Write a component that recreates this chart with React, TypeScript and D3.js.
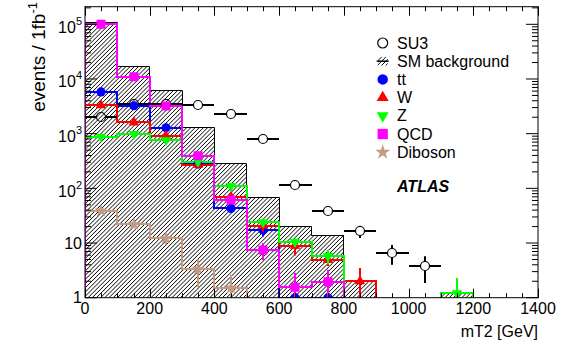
import { useEffect, useRef } from 'react';
import * as d3 from 'd3';

// mT2 bins, 100 GeV wide
const binLow = [0, 100, 200, 300, 400, 500, 600, 700, 800, 900, 1000, 1100, 1200, 1300];
const binWidth = 100;

const smBackground = [107000, 16700, 6100, 1300, 280, 68, 20.4, 14, 2.0, 0, 0, 1.2, 0, 0];
const su3 = [2000, 3450, 3450, 3340, 2250, 790, 115, 38, 16.5, 6.6, 3.8, 0, 0, 0];
const su3Err = [45, 59, 59, 58, 47, 28, 10.7, 6.2, 4.1, 2.6, 1.95, 0, 0, 0];
const ttbar = [5800, 3240, 1280, 278, 43, 17.3, 1.0, 1.0, 0, 0, 0, 0, 0, 0];
const ttbarErr = [76, 57, 36, 17, 6.5, 4.2, 1.0, 1.0, 0, 0, 0, 0, 0, 0];
const wjets = [3300, 1610, 900, 270, 70, 20.7, 8.9, 4.9, 2.0, 0, 0, 0, 0, 0];
const wjetsErr = [57, 40, 30, 16, 8.4, 4.5, 3.0, 1.1, 1.5, 0, 0, 0, 0, 0];
const zjets = [880, 985, 760, 306, 110, 24, 10.5, 5.8, 0, 0, 0, 1.2, 0, 0];
const zjetsErr = [30, 31, 28, 17, 10, 4.0, 1.5, 1.7, 0, 0, 0, 1.1, 0, 0];
const qcd = [100000, 11000, 3200, 394, 61, 7.45, 1.55, 1.96, 0, 0, 0, 0, 0, 0];
const qcdErr = [316, 105, 57, 20, 7.8, 2.6, 1.3, 1.3, 0, 0, 0, 0, 0, 0];
const diboson = [39, 22, 12.2, 3.35, 1.52, 0, 0, 0, 0, 0, 0, 0, 0, 0];
const dibosonErr = [3, 3, 2.7, 1.8, 1.1, 0, 0, 0, 0, 0, 0, 0, 0, 0];

const xTicks = [0, 200, 400, 600, 800, 1000, 1200, 1400];
const yTicks = [1, 10, 100, 1000, 10000, 100000];
const yTickBase = ['1', '10', '10', '10', '10', '10'];
const yTickSup = ['', '', '2', '3', '4', '5'];

const legendLabels = ['SU3', 'SM background', 'tt', 'W', 'Z', 'QCD', 'Diboson'];

type Series = { values: number[]; errs: number[]; color: string; symbol: d3.SymbolType; size: number; rotate: number };

const series: Series[] = [
  { values: diboson, errs: dibosonErr, color: '#c49a82', symbol: d3.symbolStar, size: 55, rotate: 0 },
  { values: ttbar, errs: ttbarErr, color: '#0000ff', symbol: d3.symbolCircle, size: 66, rotate: 0 },
  { values: wjets, errs: wjetsErr, color: '#ff0000', symbol: d3.symbolTriangle, size: 48, rotate: 0 },
  { values: zjets, errs: zjetsErr, color: '#00ff00', symbol: d3.symbolTriangle, size: 48, rotate: 180 },
  { values: qcd, errs: qcdErr, color: '#ff00ff', symbol: d3.symbolSquare, size: 81, rotate: 0 },
];

const width = 567;
const height = 351;
const font = '"Liberation Sans", Arial, Helvetica, sans-serif';

export default function App() {
  const svgRef = useRef<SVGSVGElement>(null);

  useEffect(() => {
    if (!svgRef.current) return;
    const svg = d3.select(svgRef.current);
    svg.selectAll('*').remove();

    const left = 85, right = 538, top = 6.7, bottom = 297.7;
    const x = d3.scaleLinear().domain([0, 1400]).range([left, right]);
    const y = d3.scaleLog().domain([1, 2.1e5]).range([bottom, top]);
    const yv = (v: number) => (v > 0 ? y(Math.max(v, 0.5)) : bottom + 2);

    const defs = svg.append('defs');
    defs.append('clipPath').attr('id', 'plotclip')
      .append('rect')
      .attr('x', left).attr('y', top)
      .attr('width', right - left).attr('height', bottom - top);

    // clip region = SM background bins
    const smClip = defs.append('clipPath').attr('id', 'smclip');
    smBackground.forEach((v, i) => {
      if (v <= 0) return;
      smClip.append('rect')
        .attr('x', x(binLow[i]))
        .attr('y', y(v))
        .attr('width', x(binLow[i] + binWidth) - x(binLow[i]))
        .attr('height', bottom - y(v));
    });
    // legend hatch box
    const lx = 382.7, ly = 43, step = 18.2;
    defs.append('clipPath').attr('id', 'legclip')
      .append('rect').attr('x', lx - 5).attr('y', ly + step - 4.5).attr('width', 10).attr('height', 9);

    const hatch = (parent: d3.Selection<SVGGElement, unknown, null, undefined>, x0: number, x1: number, y0: number, y1: number) => {
      const h = y1 - y0;
      d3.range(x0 - h, x1, 4.2).forEach(k => {
        parent.append('line')
          .attr('x1', k).attr('y1', y1)
          .attr('x2', k + h).attr('y2', y0)
          .attr('stroke', '#000').attr('stroke-width', 1);
      });
    };

    svg.append('rect').attr('width', width).attr('height', height).attr('fill', '#fff');

    const g = svg.append('g').attr('clip-path', 'url(#plotclip)');

    // SM background, hatched
    const hg = g.append('g').attr('clip-path', 'url(#smclip)');
    hatch(hg, left, right, top, bottom);

    // step outline, snapped to whole pixels so the 2px lines stay crisp
    const stepPath = (vals: number[], odd: boolean) => {
      const s = (n: number) => (odd ? Math.round(n - 0.5) + 0.5 : Math.round(n));
      const p = d3.path();
      p.moveTo(s(x(binLow[0])), bottom + 2);
      vals.forEach((v, i) => {
        p.lineTo(s(x(binLow[i])), s(yv(v)));
        p.lineTo(s(x(binLow[i] + binWidth)), s(yv(v)));
      });
      p.lineTo(s(x(binLow[binLow.length - 1] + binWidth)), bottom + 2);
      return p.toString();
    };
    g.append('path')
      .attr('d', stepPath(smBackground, true))
      .attr('fill', 'none')
      .attr('stroke', '#000')
      .attr('stroke-width', 1);

    // background histograms
    series.forEach(s => {
      g.append('path')
        .attr('d', stepPath(s.values, false))
        .attr('fill', 'none')
        .attr('stroke', s.color)
        .attr('stroke-width', 2);
    });

    // SU3 points with error bars
    const r = 4.5;
    su3.forEach((v, i) => {
      if (v <= 0) return;
      const cx = Math.round(x(binLow[i] + binWidth / 2));
      const cy = Math.round(y(v));
      const segs = [
        [Math.round(x(binLow[i])), cy, cx - r, cy],
        [cx + r, cy, Math.round(x(binLow[i] + binWidth)), cy],
        [cx, y(v + su3Err[i]), cx, cy - r],
        [cx, cy + r, cx, yv(v - su3Err[i])],
      ];
      segs.forEach(([x1, y1, x2, y2]) => {
        if (Math.abs(x2 - x1) + Math.abs(y2 - y1) < 0.5) return;
        if ((y2 - y1) < 0 || (x2 - x1) < 0) return;
        g.append('line')
          .attr('x1', x1).attr('y1', y1).attr('x2', x2).attr('y2', y2)
          .attr('stroke', '#000').attr('stroke-width', 2);
      });
      g.append('circle')
        .attr('cx', cx).attr('cy', cy).attr('r', r)
        .attr('fill', 'none').attr('stroke', '#000').attr('stroke-width', 1.2);
    });

    // markers + vertical errors
    series.forEach(s => {
      s.values.forEach((v, i) => {
        if (v <= 0) return;
        const cx = Math.round(x(binLow[i] + binWidth / 2));
        const cy = y(v);
        g.append('line')
          .attr('x1', cx).attr('x2', cx)
          .attr('y1', y(v + s.errs[i]))
          .attr('y2', yv(v - s.errs[i]))
          .attr('stroke', s.color).attr('stroke-width', 2);
        g.append('path')
          .attr('d', d3.symbol().type(s.symbol).size(s.size)())
          .attr('transform', `translate(${cx},${cy}) rotate(${s.rotate})`)
          .attr('fill', s.color);
      });
    });

    // frame
    svg.append('rect')
      .attr('x', left).attr('y', top)
      .attr('width', right - left).attr('height', bottom - top)
      .attr('fill', 'none').attr('stroke', '#000').attr('stroke-width', 1);

    const ticks = svg.append('g').attr('stroke', '#000').attr('stroke-width', 1);
    // x ticks (major 200, minor 50), bottom and top
    d3.range(0, 1401, 50).forEach(t => {
      const len = t % 200 === 0 ? 9 : 4.5;
      const xx = Math.round(x(t)) + 0.5;
      ticks.append('line').attr('x1', xx).attr('x2', xx).attr('y1', bottom).attr('y2', bottom - len);
      ticks.append('line').attr('x1', xx).attr('x2', xx).attr('y1', top).attr('y2', top + len);
    });
    // y ticks (log), left and right
    yTicks.forEach(d => {
      for (let k = 1; k <= 9; k++) {
        const val = d * k;
        if (val > 2.1e5) break;
        const len = k === 1 ? 12 : 6;
        const yy = y(val);
        ticks.append('line').attr('x1', left).attr('x2', left + len).attr('y1', yy).attr('y2', yy);
        ticks.append('line').attr('x1', right).attr('x2', right - len).attr('y1', yy).attr('y2', yy);
      }
    });

    // tick labels
    xTicks.forEach(t => {
      svg.append('text')
        .attr('x', x(t))
        .attr('y', 313.5)
        .attr('text-anchor', 'middle')
        .attr('font-family', font)
        .attr('font-size', 16)
        .text(t);
    });
    yTicks.forEach((t, i) => {
      const txt = svg.append('text')
        .attr('x', 82)
        .attr('y', y(t) + (yTickSup[i] ? 8.5 : 5.5))
        .attr('text-anchor', 'end')
        .attr('font-family', font)
        .attr('font-size', 16);
      txt.append('tspan').text(yTickBase[i]);
      if (yTickSup[i]) {
        txt.append('tspan').attr('dy', -8).attr('font-size', 11).text(yTickSup[i]);
      }
    });

    // axis titles
    svg.append('text')
      .attr('x', right)
      .attr('y', 336.5)
      .attr('text-anchor', 'end')
      .attr('font-family', font)
      .attr('font-size', 16)
      .text('mT2 [GeV]');
    const yl = svg.append('text')
      .attr('transform', 'translate(45,2) rotate(-90)')
      .attr('text-anchor', 'end')
      .attr('font-family', font)
      .attr('font-size', 19);
    yl.append('tspan').text('events / 1fb');
    yl.append('tspan').attr('dy', -8).attr('font-size', 13).text('-1');

    // ATLAS label
    svg.append('text')
      .attr('x', 397)
      .attr('y', 192.3)
      .attr('font-family', font)
      .attr('font-size', 16)
      .attr('font-weight', 'bold')
      .attr('font-style', 'italic')
      .text('ATLAS');

    // legend
    const leg = svg.append('g');
    legendLabels.forEach((lab, i) => {
      const cy = ly + i * step;
      leg.append('text')
        .attr('x', 397)
        .attr('y', cy + 5.5)
        .attr('font-family', font)
        .attr('font-size', 16)
        .text(lab);
    });
    leg.append('circle').attr('cx', lx).attr('cy', ly).attr('r', 5)
      .attr('fill', 'none').attr('stroke', '#000').attr('stroke-width', 1.2);
    const lh = leg.append('g').attr('clip-path', 'url(#legclip)');
    hatch(lh, lx - 5, lx + 5, ly + step - 4.5, ly + step + 4.5);
    leg.append('line').attr('x1', lx - 6).attr('x2', lx + 6).attr('y1', ly + step).attr('y2', ly + step)
      .attr('stroke', '#000').attr('stroke-width', 1.5);
    const legOrder = [1, 2, 3, 4, 0];
    legOrder.forEach((si, j) => {
      const s = series[si];
      leg.append('path')
        .attr('d', d3.symbol().type(s.symbol).size(s.size * 1.3)())
        .attr('transform', `translate(${lx},${ly + (j + 2) * step}) rotate(${s.rotate})`)
        .attr('fill', s.color);
    });
  }, []);

  return (
    <svg
      ref={svgRef}
      width={width}
      height={height}
      style={{ position: 'absolute', left: 0, top: 0, display: 'block' }}
    />
  );
}
